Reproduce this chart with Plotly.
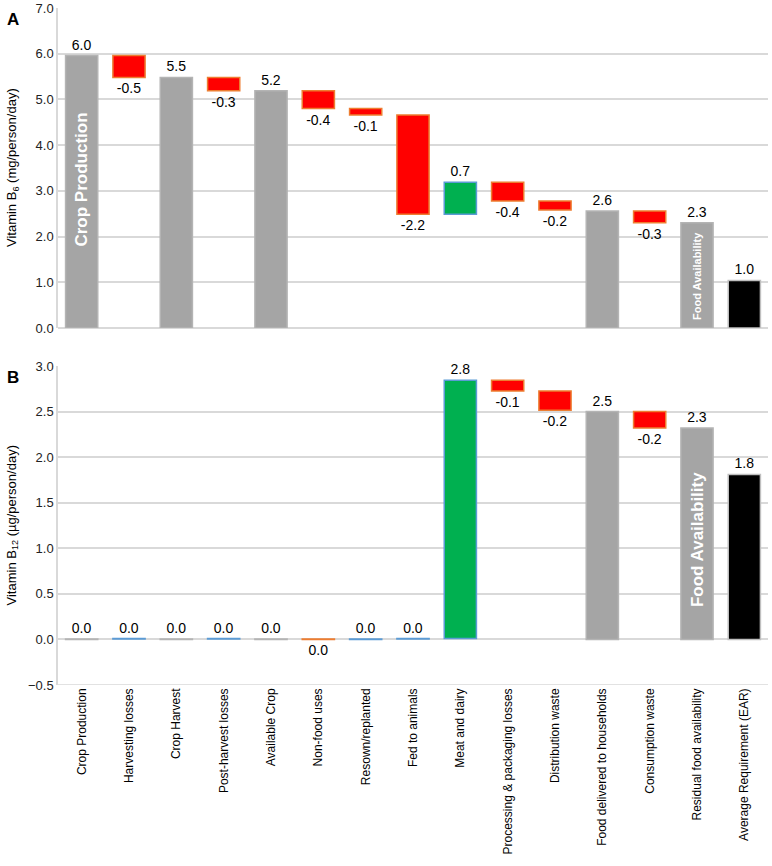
import plotly.graph_objects as go

categories = ["Crop Production", "Harvesting losses", "Crop Harvest", "Post-harvest losses",
              "Available Crop", "Non-food uses", "Resown/replanted", "Fed to animals",
              "Meat and dairy", "Processing & packaging losses", "Distribution waste",
              "Food delivered to households", "Consumption waste", "Residual food availability",
              "Average Requirement (EAR)"]
measures = ["total", "relative", "total", "relative", "total", "relative", "relative", "relative",
            "relative", "relative", "relative", "total", "relative", "total", "reference"]
b6_values = [5.96, -0.48, 5.48, -0.29, 5.19, -0.39, -0.14, -2.17, 0.70, -0.41, -0.20,
             2.56, -0.26, 2.30, 1.04]
b12_values = [0.005, 0.005, 0.005, 0.005, 0.005, -0.005, 0.005, 0.005, 2.835, -0.12, -0.21,
              2.50, -0.18, 2.32, 1.81]

FILL = {"total": "#A5A5A5", "dec": "#FF0000", "inc": "#00B050", "reference": "#000000"}
EDGE = {"total": "#B4B4B4", "dec": "#ED7D31", "inc": "#5B9BD5", "reference": "#BFBFBF"}
FONT = "Arial, Liberation Sans, sans-serif"


def waterfall(values):
    bases, heights, fills, edges, texts = [], [], [], [], []
    level = 0.0
    for m, v in zip(measures, values):
        if m in ("total", "reference"):
            bases.append(0.0)
            heights.append(v)
            if m == "total":
                level = v
            kind = m
        else:
            bases.append(level)
            heights.append(v)
            level += v
            kind = "inc" if v >= 0 else "dec"
        fills.append(FILL[kind])
        edges.append(EDGE[kind])
        texts.append(f"{v:.1f}".replace("-0.0", "0.0"))
    return bases, heights, fills, edges, texts


fig = go.Figure()
for vals, xa, ya in [(b6_values, "x", "y"), (b12_values, "x2", "y2")]:
    bases, heights, fills, edges, texts = waterfall(vals)
    fig.add_trace(go.Bar(
        x=categories, y=heights, base=bases, width=0.68,
        marker=dict(color=fills, line=dict(color=edges, width=1.5)),
        text=texts, textposition="outside", constraintext="none", cliponaxis=False,
        textfont=dict(family=FONT, size=14, color="#000000"),
        xaxis=xa, yaxis=ya, showlegend=False, hoverinfo="x+y",
    ))

grid = "#D9D9D9"
common_x = dict(type="category", categoryorder="array", categoryarray=categories,
                range=[-0.5, 14.5], showgrid=False, zeroline=False, ticks="",
                showline=False, automargin=False)
common_y = dict(tickformat=".1f", showgrid=True, gridcolor=grid, gridwidth=1.5,
                zeroline=True, zerolinecolor=grid, zerolinewidth=1.5, showline=True,
                linecolor=grid, linewidth=1.5, ticks="", automargin=False,
                tickfont=dict(family=FONT, size=13, color="#222222"))
fig.update_layout(
    width=772, height=866,
    margin=dict(l=58, r=4, t=8, b=181),
    paper_bgcolor="white", plot_bgcolor="white",
    font=dict(family=FONT, size=12, color="#222222"),
    xaxis=dict(**common_x, anchor="y", showticklabels=False),
    xaxis2=dict(**common_x, anchor="y2", tickangle=-90,
                tickfont=dict(family=FONT, size=12, color="#000000")),
    yaxis=dict(**common_y, domain=[0.5273, 1.0], range=[0, 7.0], dtick=1.0, anchor="x"),
    yaxis2=dict(**common_y, domain=[0.0, 0.4712], range=[-0.5, 3.0], dtick=0.5, anchor="x2"),
)

# x-axis baseline for bottom panel at -0.5
fig.add_shape(type="line", xref="x2 domain", yref="y2", x0=0, x1=1, y0=-0.5, y1=-0.5,
              line=dict(color=grid, width=1.5), layer="below")

annotations = [
    dict(text="<b>A</b>", x=-53 / 710, y=1.0, xref="paper", yref="paper", xanchor="left",
         yanchor="top", showarrow=False, font=dict(family=FONT, size=17, color="#000")),
    dict(text="<b>B</b>", x=-53 / 710, y=0.4712, xref="paper", yref="paper", xanchor="left",
         yanchor="top", showarrow=False, font=dict(family=FONT, size=17, color="#000")),
    dict(text="Vitamin B<sub>6</sub> (mg/person/day)", x=-46 / 710, y=(0.5273 + 1.0) / 2,
         xref="paper", yref="paper", xanchor="center", yanchor="middle", textangle=-90,
         showarrow=False, font=dict(family=FONT, size=13, color="#000")),
    dict(text="Vitamin B<sub>12</sub> (µg/person/day)", x=-46 / 710, y=0.4712 / 2,
         xref="paper", yref="paper", xanchor="center", yanchor="middle", textangle=-90,
         showarrow=False, font=dict(family=FONT, size=13, color="#000")),
    dict(text="<b>Crop Production</b>", x=categories[0], y=3.24, xref="x", yref="y",
         textangle=-90, showarrow=False, font=dict(family=FONT, size=17, color="white")),
    dict(text="<b>Food Availability</b>", x=categories[13], y=1.14, xref="x", yref="y",
         textangle=-90, showarrow=False, font=dict(family=FONT, size=11, color="white")),
    dict(text="<b>Food Availability</b>", x=categories[13], y=1.09, xref="x2", yref="y2",
         textangle=-90, showarrow=False, font=dict(family=FONT, size=17, color="white")),
]
fig.update_layout(annotations=annotations)

fig.write_html("out.html", config={"displayModeBar": False},
               post_script="document.body.style.margin='0';document.body.style.overflow='hidden';")
